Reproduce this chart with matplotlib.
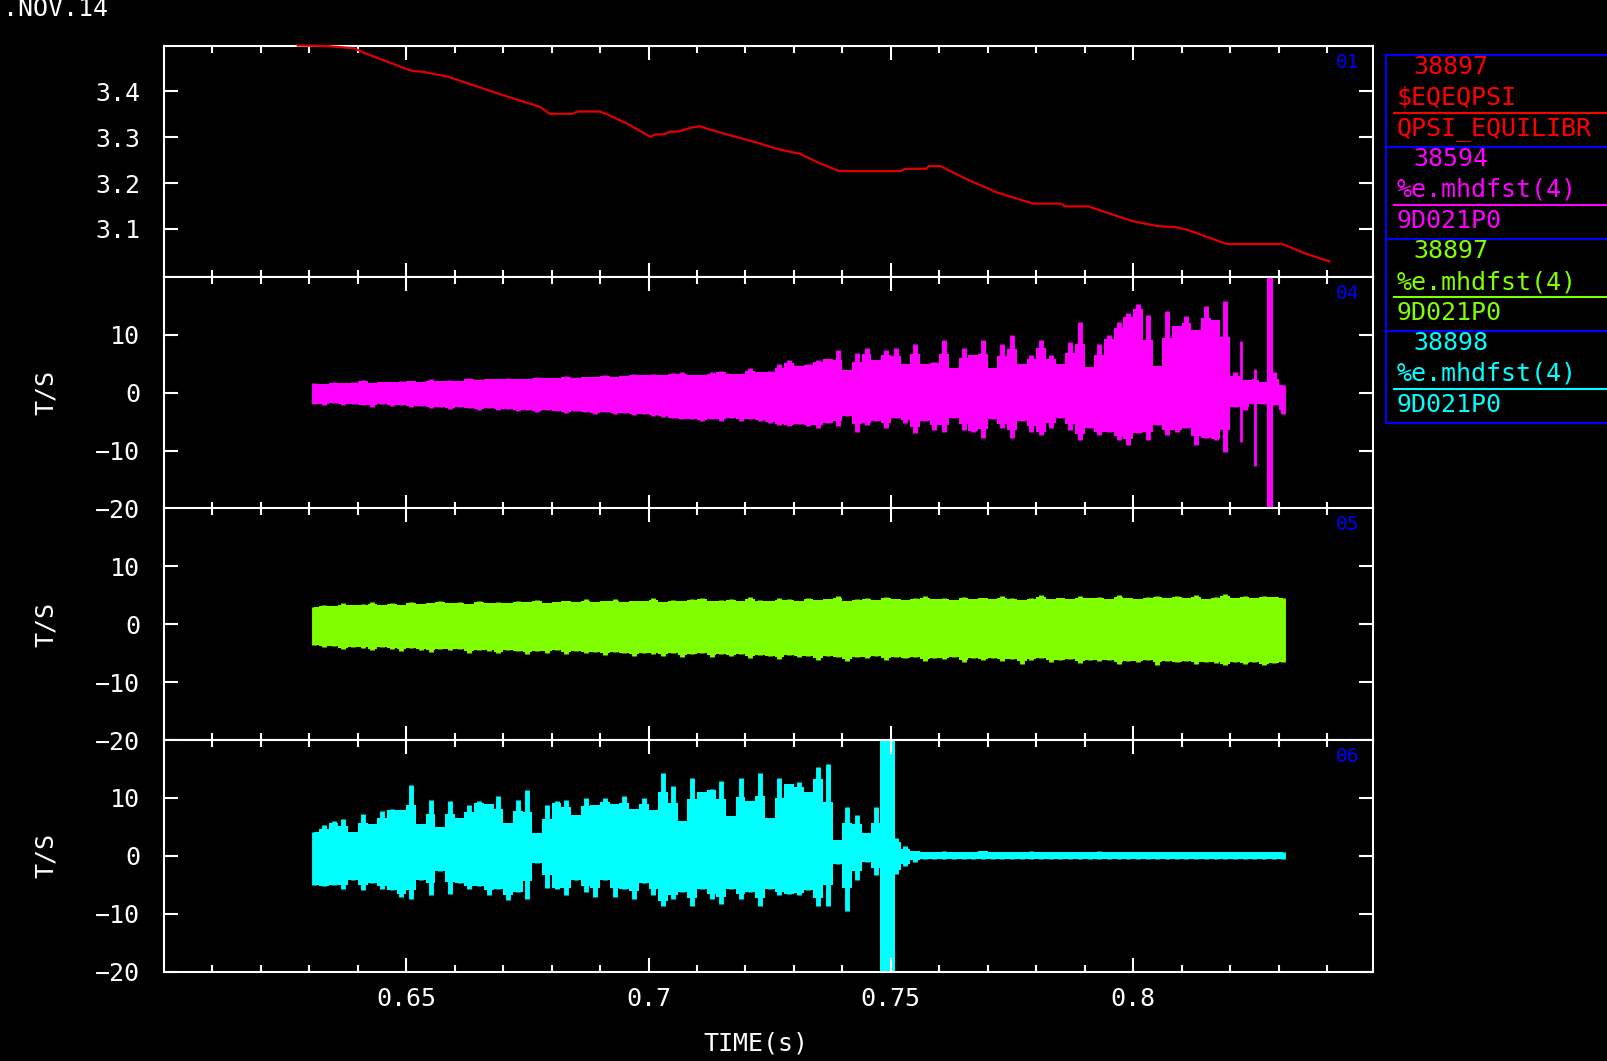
import matplotlib
matplotlib.use("Agg")
import matplotlib.pyplot as plt
from matplotlib.patches import Rectangle
from matplotlib.lines import Line2D
import numpy as np

# ---- panel 01: q profile (red line)
q_time = [0.6276, 0.6334, 0.6392, 0.6413, 0.6458, 0.6499, 0.6516, 0.6532, 0.6561,
          0.6586, 0.6611, 0.6693, 0.6776, 0.6796, 0.6842, 0.6854, 0.6899, 0.6912,
          0.6957, 0.7003, 0.7015, 0.7031, 0.7044, 0.7060, 0.7089, 0.7106, 0.7122,
          0.7172, 0.7221, 0.7264, 0.7288, 0.7312, 0.7353, 0.7394, 0.7520, 0.7529,
          0.7573, 0.7578, 0.7602, 0.7655, 0.7720, 0.7794, 0.7851, 0.7859, 0.7908,
          0.7998, 0.8051, 0.8087, 0.8112, 0.8193, 0.8308, 0.8356, 0.8405]
q_val = [3.500, 3.499, 3.494, 3.484, 3.466, 3.449, 3.444, 3.443, 3.437,
         3.432, 3.423, 3.394, 3.366, 3.351, 3.351, 3.356, 3.356, 3.351,
         3.329, 3.301, 3.306, 3.306, 3.312, 3.312, 3.321, 3.324, 3.318,
         3.303, 3.289, 3.275, 3.269, 3.264, 3.243, 3.226, 3.226, 3.231,
         3.231, 3.237, 3.237, 3.209, 3.179, 3.155, 3.155, 3.149, 3.149,
         3.117, 3.106, 3.104, 3.098, 3.067, 3.067, 3.046, 3.029]

# ---- envelopes of the dense Mirnov signals, sampled every 2 ms
env_time = np.arange(0.631, 0.8315, 0.002)

mag_up = [1.6, 1.5, 1.9, 1.6, 1.8, 2.2, 1.7, 1.9, 1.8, 2.0,
          2.1, 1.9, 2.3, 2.0, 2.2, 2.1, 2.5, 2.2, 2.4, 2.3,
          2.6, 2.4, 2.3, 2.7, 2.5, 2.6, 2.9, 2.6, 2.8, 2.7,
          3.1, 2.8, 2.9, 3.2, 3.0, 3.3, 3.1, 3.4,
          3.6, 3.0, 3.0, 3.6, 3.7, 3.3, 3.3, 4.2, 3.6, 3.7,
          5.0, 5.6, 4.7, 5.0, 5.6, 5.9, 7.4, 3.9, 6.8, 7.7,
          5.6, 7.4, 7.7, 5.0, 8.5, 5.0, 5.3, 9.1, 4.2, 7.7,
          6.5, 9.1, 4.2, 8.5, 10.0, 5.0, 6.5, 9.1, 6.5, 5.0,
          8.8, 12.3, 4.4, 8.5, 10.0, 12.3, 13.8, 15.3, 13.5, 4.7,
          14.1, 11.5, 13.3, 10.9, 15.0, 12.6, 15.8,
          3.6, 2.2, 2.5, 1.8, 3.5, 1.3]
mag_lo = [-1.9, -2.1, -1.8, -2.2, -2.0, -2.1, -2.4, -2.0, -2.3, -2.2,
          -2.5, -2.3, -2.6, -2.4, -2.8, -2.5, -2.7, -2.9, -2.6, -3.0,
          -2.8, -3.1, -2.9, -3.3, -3.0, -3.2, -3.5, -3.1, -3.4, -3.6,
          -3.3, -3.7, -3.5, -3.9, -3.6, -4.0, -4.2, -4.4,
          -4.6, -4.6, -4.8, -4.6, -4.9, -4.3, -4.8, -4.6, -4.9, -5.2,
          -5.5, -5.8, -5.4, -5.8, -6.1, -5.2, -5.8, -4.0, -6.7, -5.5,
          -4.9, -6.1, -4.3, -5.2, -7.0, -4.9, -6.4, -6.7, -4.3, -6.4,
          -6.7, -7.8, -4.6, -6.1, -7.8, -4.9, -6.7, -7.3, -6.1, -4.3,
          -6.4, -8.1, -6.1, -7.3, -6.7, -8.1, -9.0, -7.0, -8.1, -5.5,
          -7.3, -6.7, -6.1, -9.0, -7.8, -8.1, -10.2,
          -2.5, -3.0, -1.9, -1.9, -2.2, -3.6]
mag_spike_t = [0.8222, 0.8251]
mag_spike_top = [9.0, 4.1]
mag_spike_bot = [-8.5, -12.6]
mag_burst_t = [0.8276, 0.8288]

grn_up = [3.0, 3.4, 3.1, 3.6, 3.3, 3.5, 3.8, 3.3, 3.6, 3.4,
          3.9, 3.5, 3.7, 4.0, 3.6, 3.8, 3.5, 4.1, 3.7, 3.9,
          3.6, 4.0, 3.8, 4.2, 3.7, 3.9, 4.1, 3.8, 4.3, 3.9,
          4.0, 4.4, 3.8, 4.1, 4.0, 4.5, 3.9, 4.2, 4.0, 4.3,
          4.6, 4.0, 4.2, 4.4, 4.1, 4.7, 4.2, 4.0, 4.5, 4.3,
          4.1, 4.6, 4.2, 4.4, 4.8, 4.1, 4.3, 4.5, 4.2, 4.7,
          4.4, 4.2, 4.6, 4.9, 4.3, 4.5, 4.2, 4.7, 4.4, 4.6,
          4.3, 4.8, 4.5, 4.2, 4.6, 5.0, 4.4, 4.6, 4.3, 4.8,
          4.5, 4.7, 4.4, 5.1, 4.6, 4.3, 4.7, 4.9, 4.5, 4.8,
          4.6, 5.0, 4.4, 4.7, 5.2, 4.6, 4.8, 4.5, 4.9, 4.7,
          4.6]
grn_lo = [-3.6, -4.0, -3.8, -4.3, -3.9, -4.1, -4.5, -4.0, -4.2, -4.6,
          -4.1, -4.4, -4.8, -4.2, -4.5, -4.3, -4.9, -4.4, -4.6, -5.0,
          -4.5, -4.7, -5.1, -4.6, -4.9, -4.5, -5.2, -4.7, -5.0, -4.8,
          -5.3, -4.8, -5.0, -5.5, -4.9, -5.1, -5.4, -5.0, -5.6, -5.2,
          -5.0, -5.7, -5.2, -5.4, -5.1, -5.8, -5.3, -5.5, -6.0, -5.3,
          -5.6, -5.4, -6.1, -5.5, -5.7, -6.3, -5.6, -5.8, -5.5, -6.2,
          -5.7, -5.9, -5.6, -6.4, -5.8, -6.0, -5.7, -6.6, -5.9, -6.1,
          -5.8, -6.3, -6.0, -6.8, -6.1, -5.9, -6.5, -6.2, -6.0, -6.7,
          -6.2, -6.4, -6.1, -6.9, -6.3, -6.5, -6.2, -7.0, -6.4, -6.6,
          -6.3, -6.8, -6.5, -6.7, -7.1, -6.5, -6.8, -6.6, -7.0, -6.7,
          -6.6]

cyn_up = [4.1, 5.3, 6.0, 6.3, 4.1, 7.3, 5.5, 7.7, 8.1, 7.9,
          12.2, 5.5, 9.7, 4.9, 9.5, 6.5, 8.7, 9.5, 8.9, 10.3,
          5.7, 9.7, 11.3, 3.9, 8.7, 9.5, 9.7, 7.1, 10.0, 8.7,
          10.0, 8.9, 10.3, 8.1, 10.0, 7.9, 14.3, 12.1, 6.0, 13.5,
          11.1, 11.6, 12.9, 6.8, 13.5, 9.5, 14.3, 6.5, 13.5, 12.4,
          12.7, 11.1, 15.3, 15.9, 2.8, 8.5, 7.0, 3.9, 8.4,
          3.0,
          3.0, 1.6, 0.9, 0.7, 0.6, 0.8, 0.6, 0.7, 0.6, 0.9,
          0.6, 0.7, 0.6, 0.6, 0.8, 0.6, 0.7, 0.6, 0.6, 0.7,
          0.6, 0.8, 0.6, 0.7, 0.6, 0.6, 0.7, 0.6, 0.6, 0.7,
          0.6, 0.6, 0.7, 0.6, 0.6, 0.6, 0.7, 0.6, 0.6, 0.6,
          0.6]
cyn_lo = [-5.0, -5.3, -5.0, -5.8, -4.2, -6.0, -4.7, -5.8, -6.0, -7.1,
          -7.5, -4.2, -6.8, -2.6, -6.6, -4.7, -5.8, -5.2, -6.8, -5.8,
          -7.6, -6.3, -7.4, -1.2, -5.5, -5.8, -6.8, -4.2, -6.3, -7.1,
          -4.2, -7.1, -5.8, -7.4, -4.7, -6.8, -8.7, -7.4, -6.3, -8.7,
          -5.8, -7.4, -8.4, -5.8, -7.4, -6.3, -8.7, -5.8, -6.8, -6.6,
          -6.8, -6.0, -8.7, -8.7, -1.5, -9.5, -4.2, -1.0, -3.4,
          -3.0,
          -3.2, -1.8, -1.0, -0.6, -0.5, -0.6, -0.5, -0.5, -0.6, -0.5,
          -0.5, -0.6, -0.5, -0.5, -0.5, -0.6, -0.5, -0.5, -0.5, -0.5,
          -0.6, -0.5, -0.5, -0.5, -0.5, -0.6, -0.5, -0.5, -0.5, -0.5,
          -0.5, -0.6, -0.5, -0.5, -0.5, -0.5, -0.5, -0.5, -0.5, -0.5,
          -0.5]
cyn_burst_t = [0.7477, 0.7508]
burst_amp = 21

# ---- legend contents
leg_shots = ["38897", "38594", "38897", "38898"]
leg_names = ["$EQEQPSI", "%e.mhdfst(4)", "%e.mhdfst(4)", "%e.mhdfst(4)"]
leg_sigs = ["QPSI_EQUILIBR", "9D021P0", "9D021P0", "9D021P0"]
leg_colors = ["#ff0000", "#ff00ff", "#80ff00", "#00ffff"]

panel_ids = ["01", "04", "05", "06"]
x_major = [0.65, 0.7, 0.75, 0.8]
x_labels = ["0.65", "0.7", "0.75", "0.8"]
q_ticks = [3.1, 3.2, 3.3, 3.4]
ts_ticks = [-20, -10, 0, 10]
ts_labels = ["\u221220", "\u221210", "0", "10"]

plt.rcParams["font.family"] = ["DejaVu Sans Mono", "DejaVu Sans"]

W, H = 1607, 1061
fig = plt.figure(figsize=(W / 100, H / 100), dpi=100, facecolor="black")

def fx(px):
    return px / W

def fy(py):
    return 1 - py / H

def draw_signal(ax, t, lo, up, color):
    # blocky core band (halfway to the quieter neighbour) plus narrow spikes
    up = np.asarray(up)
    lo = np.asarray(lo)
    up_pad = np.concatenate([up[:1], up, up[-1:]])
    lo_pad = np.concatenate([lo[:1], lo, lo[-1:]])
    nb_up = np.minimum(np.minimum(up_pad[:-2], up_pad[1:-1]), up_pad[2:])
    nb_lo = np.maximum(np.maximum(lo_pad[:-2], lo_pad[1:-1]), lo_pad[2:])
    ax.fill_between(t, (lo + nb_lo) / 2, (up + nb_up) / 2, step="mid", color=color, lw=0)
    ax.vlines(t, lo, up, color=color, lw=3.5)

left, right = 164, 1373
ph = 231.5
tops = [45.5, 277, 508.5, 740]
axes = []
for top in tops:
    ax = fig.add_axes([fx(left), fy(top + ph), (right - left) / W, ph / H])
    ax.set_facecolor("black")
    for sp in ax.spines.values():
        sp.set_color("white")
        sp.set_linewidth(1.5)
    ax.set_xlim(0.6, 0.8495)
    ax.set_xticks(x_major)
    ax.set_xticks(np.arange(0.61, 0.845, 0.01), minor=True)
    ax.tick_params(which="both", direction="in", top=True, right=True,
                   colors="white", width=1.5, labelsize=18)
    ax.tick_params(which="major", length=10)
    ax.tick_params(which="minor", length=5)
    ax.tick_params(axis="y", pad=17)
    ax.tick_params(axis="x", pad=11, labelbottom=False)
    axes.append(ax)

ax1, ax2, ax3, ax4 = axes

ax1.plot(q_time, q_val, color="#e00000", lw=1.6, zorder=3, clip_on=False)
ax1.set_ylim(2.995, 3.5)
ax1.set_yticks(q_ticks)
ax1.set_yticklabels([f"{v:.1f}" for v in q_ticks])

draw_signal(ax2, env_time, mag_lo, mag_up, "#ff00ff")
ax2.vlines(mag_spike_t, mag_spike_bot, mag_spike_top, color="#ff00ff", lw=2)
ax2.fill_between(mag_burst_t, -burst_amp, burst_amp, color="#ff00ff", lw=0)

draw_signal(ax3, env_time, grn_lo, grn_up, "#80ff00")

draw_signal(ax4, env_time, cyn_lo, cyn_up, "#00ffff")
ax4.fill_between(cyn_burst_t, -burst_amp, burst_amp, color="#00ffff", lw=0)

for ax in (ax2, ax3, ax4):
    ax.set_ylim(-20, 20)
    ax.set_yticks(ts_ticks)
    ax.set_yticklabels(ts_labels)
    ax.text(-118 / (right - left), 0.5, "T/S", transform=ax.transAxes, rotation=90,
            ha="center", va="center", color="white", fontsize=18)

ax4.tick_params(axis="x", labelbottom=True)
ax4.set_xticklabels(x_labels)

for ax, pid in zip(axes, panel_ids):
    ax.text(1 - 14 / (right - left), 1 - 7 / ph, pid, transform=ax.transAxes,
            ha="right", va="top", color="#0000ff", fontsize=14)

fig.text(fx(756), fy(1043), "TIME(s)", ha="center", va="center", color="white", fontsize=18)
fig.text(fx(3), fy(-3), ".NOV.14", ha="left", va="top", color="white", fontsize=18)

# legend boxes on the right
box_tops = [55, 147, 239, 331]
box_bottom = 423
for i in range(4):
    top = box_tops[i]
    bot = box_tops[i + 1] if i < 3 else box_bottom
    c = leg_colors[i]
    fig.add_artist(Rectangle((fx(1386), fy(bot)), fx(1640) - fx(1386), (bot - top) / H,
                             transform=fig.transFigure, fill=False, edgecolor="#0000ff", lw=1.5))
    fig.text(fx(1413), fy(top + 12), leg_shots[i], ha="left", va="center", color=c, fontsize=18)
    fig.text(fx(1397), fy(top + 43), leg_names[i], ha="left", va="center", color=c,
             fontsize=18, parse_math=False)
    fig.add_artist(Line2D([fx(1394), fx(1607)], [fy(top + 58), fy(top + 58)],
                          transform=fig.transFigure, color=c, lw=1.5))
    fig.text(fx(1397), fy(top + 74), leg_sigs[i], ha="left", va="center", color=c, fontsize=18)

fig.savefig("out.png", dpi=100, facecolor="black")
